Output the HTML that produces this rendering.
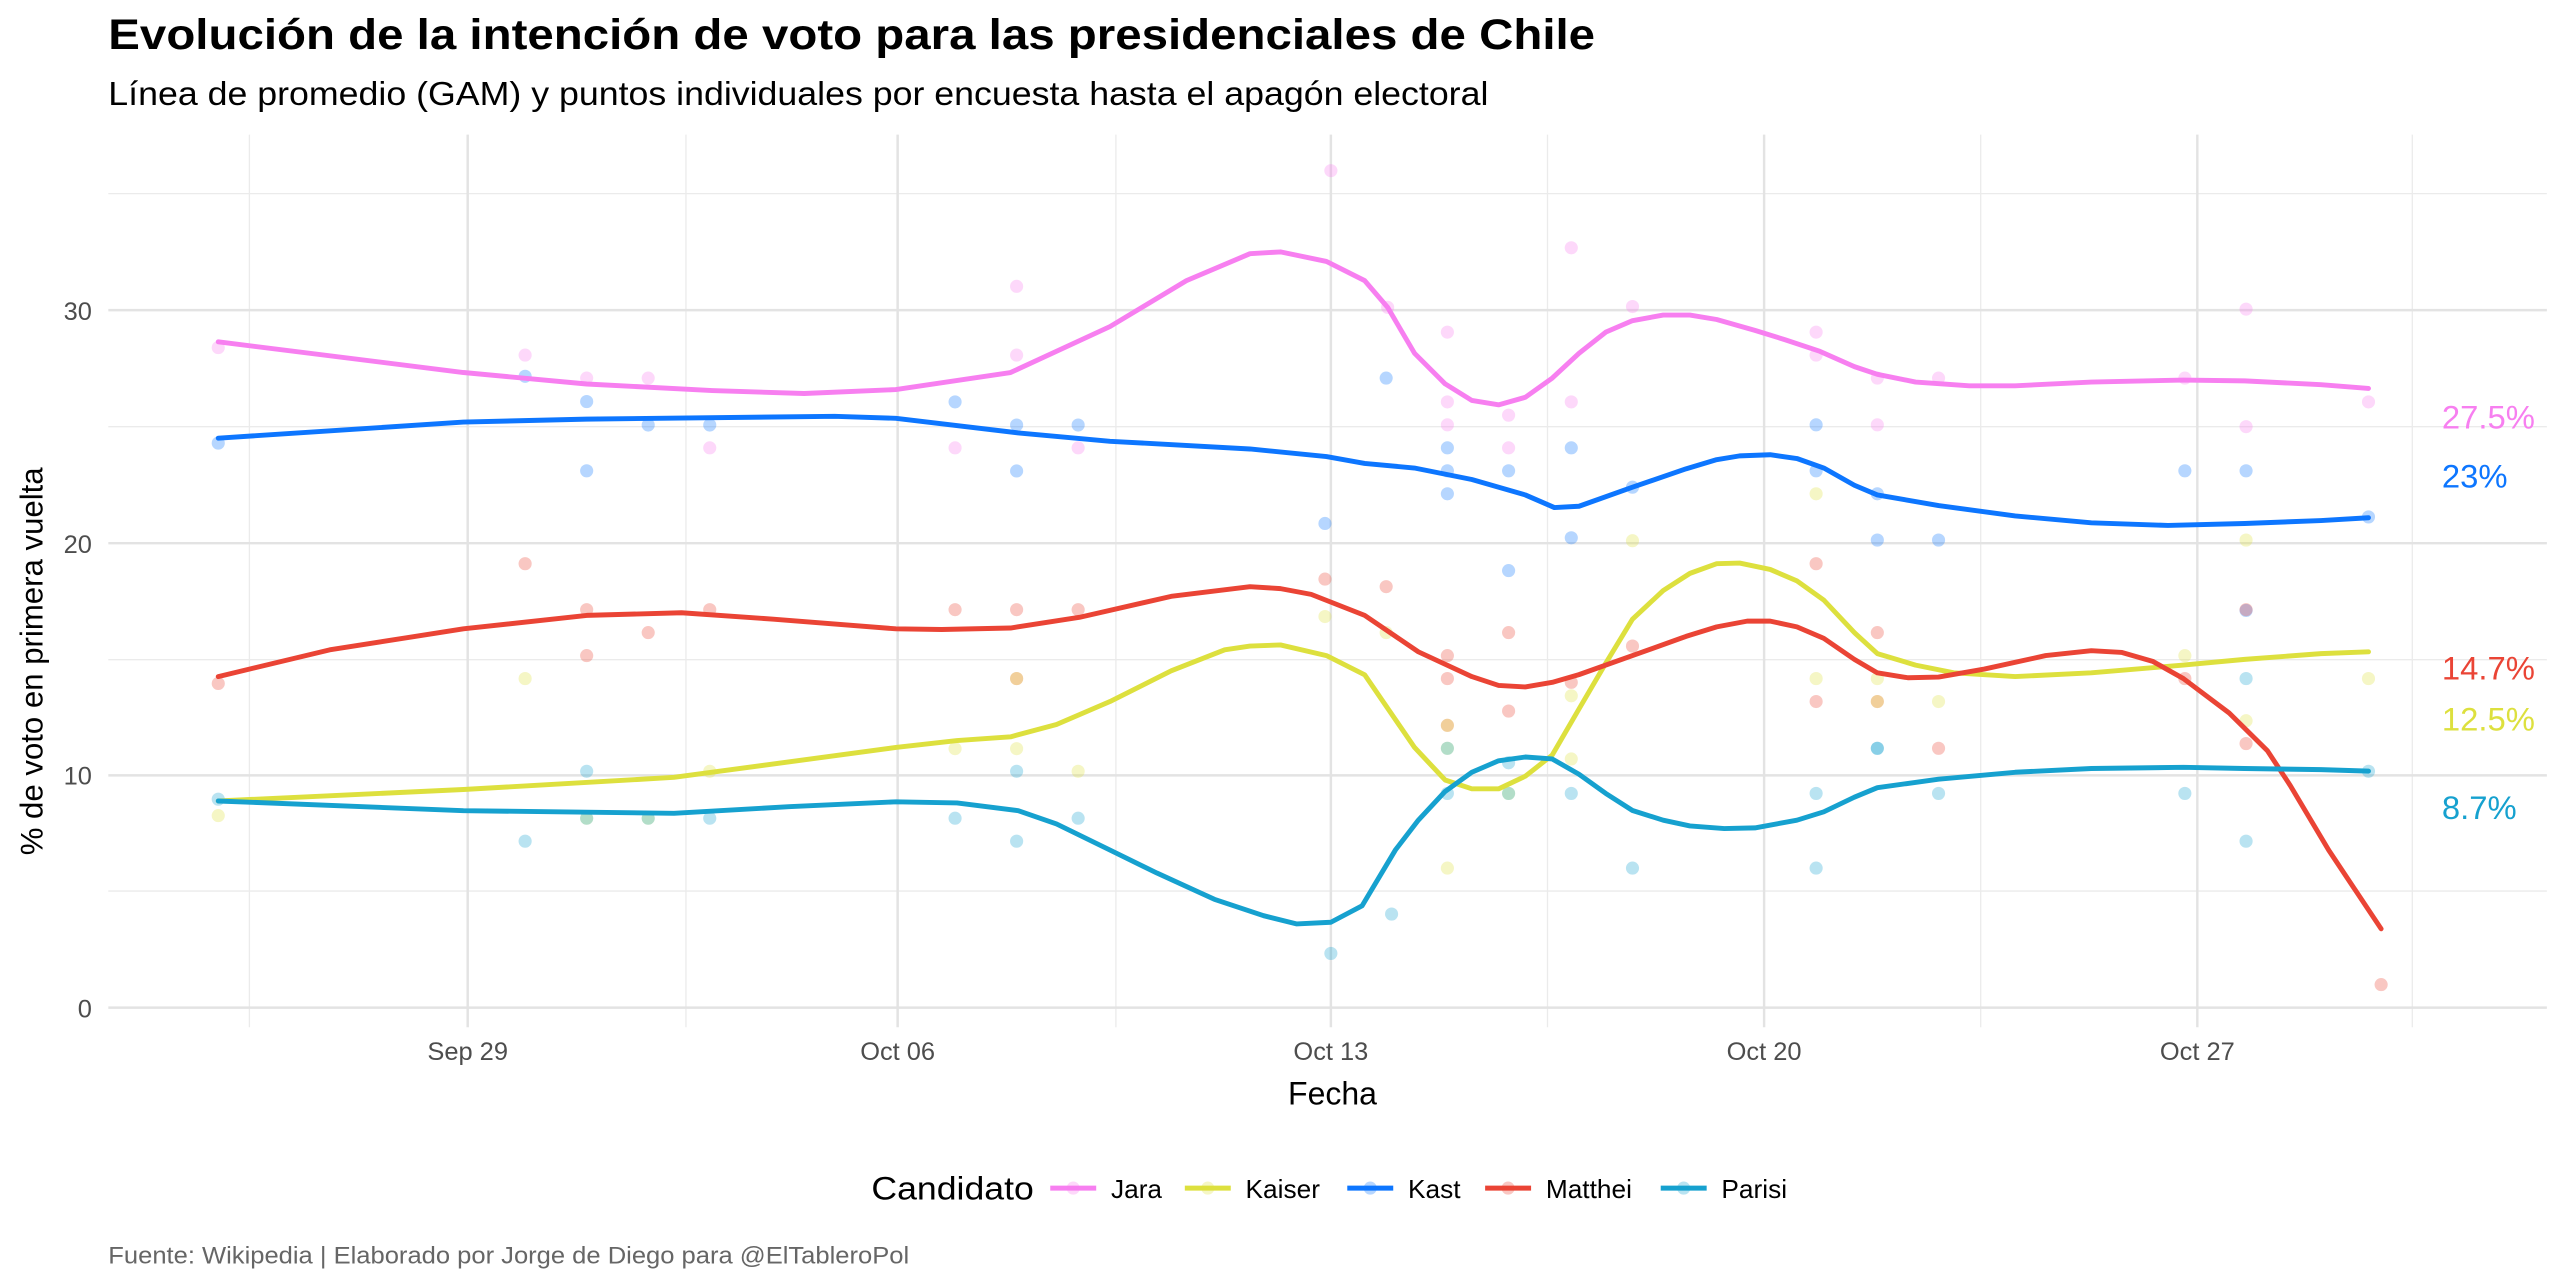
<!DOCTYPE html>
<html><head><meta charset="utf-8"><style>
html,body{margin:0;padding:0;background:#fff;}
svg{display:block;font-family:"Liberation Sans",Arial,sans-serif;}
</style></head><body>
<svg width="2560" height="1280" viewBox="0 0 1560 780" preserveAspectRatio="none" xmlns="http://www.w3.org/2000/svg" style="width:2560px;height:1280px">
<rect width="1560" height="780" fill="#fff"/>
<g stroke="#ebebeb" stroke-width="0.8">
<line x1="66" x2="1552" y1="543" y2="543"/><line x1="66" x2="1552" y1="402" y2="402"/><line x1="66" x2="1552" y1="260" y2="260"/><line x1="66" x2="1552" y1="118" y2="118"/>
<line x1="152" x2="152" y1="82" y2="626"/><line x1="418" x2="418" y1="82" y2="626"/><line x1="680" x2="680" y1="82" y2="626"/><line x1="943" x2="943" y1="82" y2="626"/><line x1="1207" x2="1207" y1="82" y2="626"/><line x1="1470" x2="1470" y1="82" y2="626"/>
</g>
<g stroke="#e3e3e3" stroke-width="1.5">
<line x1="66" x2="1552" y1="614" y2="614"/><line x1="66" x2="1552" y1="472.5" y2="472.5"/><line x1="66" x2="1552" y1="331" y2="331"/><line x1="66" x2="1552" y1="189" y2="189"/>
<line x1="285" x2="285" y1="82" y2="626"/><line x1="547" x2="547" y1="82" y2="626"/><line x1="811" x2="811" y1="82" y2="626"/><line x1="1075" x2="1075" y1="82" y2="626"/><line x1="1339" x2="1339" y1="82" y2="626"/>
</g>
<g font-size="15.5" fill="#4d4d4d">
<text x="56" y="620" text-anchor="end">0</text><text x="56" y="478" text-anchor="end">10</text><text x="56" y="337" text-anchor="end">20</text><text x="56" y="195" text-anchor="end">30</text>
<text x="285" y="646" text-anchor="middle">Sep 29</text><text x="547" y="646" text-anchor="middle">Oct 06</text><text x="811" y="646" text-anchor="middle">Oct 13</text><text x="1075" y="646" text-anchor="middle">Oct 20</text><text x="1339" y="646" text-anchor="middle">Oct 27</text>
</g>
<text x="812" y="673" font-size="19.5" text-anchor="middle" fill="#000">Fecha</text>
<text transform="translate(26,403) rotate(-90)" font-size="19" text-anchor="middle" fill="#000">% de voto en primera vuelta</text>
<text x="66" y="30" font-size="26" font-weight="bold" fill="#000" textLength="906" lengthAdjust="spacingAndGlyphs">Evolución de la intención de voto para las presidenciales de Chile</text>
<text x="66" y="64" font-size="20.5" fill="#000" textLength="841" lengthAdjust="spacingAndGlyphs">Línea de promedio (GAM) y puntos individuales por encuesta hasta el apagón electoral</text>
<text x="66" y="770" font-size="14.5" fill="#666" textLength="488" lengthAdjust="spacingAndGlyphs">Fuente: Wikipedia | Elaborado por Jorge de Diego para @ElTableroPol</text>
<!-- points -->
<g fill="#f77ff0" fill-opacity="0.3">
<circle cx="133" cy="211.8" r="4"/><circle cx="320" cy="216.4" r="4"/><circle cx="357.5" cy="230.4" r="4"/><circle cx="395" cy="230.4" r="4"/><circle cx="432.5" cy="272.9" r="4"/><circle cx="582" cy="272.9" r="4"/><circle cx="619.5" cy="174.5" r="4"/><circle cx="619.5" cy="216.4" r="4"/><circle cx="657" cy="272.9" r="4"/><circle cx="811" cy="104" r="4"/><circle cx="845.6" cy="187.3" r="4"/><circle cx="882" cy="202.4" r="4"/><circle cx="882" cy="244.9" r="4"/><circle cx="882" cy="258.9" r="4"/><circle cx="919.3" cy="253" r="4"/><circle cx="919.3" cy="272.9" r="4"/><circle cx="957.5" cy="151" r="4"/><circle cx="957.5" cy="244.9" r="4"/><circle cx="994.8" cy="186.8" r="4"/><circle cx="1106.7" cy="202.4" r="4"/><circle cx="1106.7" cy="216.4" r="4"/><circle cx="1144" cy="230.4" r="4"/><circle cx="1144" cy="258.9" r="4"/><circle cx="1181.3" cy="230.4" r="4"/><circle cx="1331.4" cy="230.4" r="4"/><circle cx="1368.7" cy="188.4" r="4"/><circle cx="1368.7" cy="260" r="4"/><circle cx="1443.3" cy="244.9" r="4"/>
</g>
<g fill="#0d76ff" fill-opacity="0.3">
<circle cx="133" cy="270" r="4"/><circle cx="320" cy="229.3" r="4"/><circle cx="357.5" cy="244.7" r="4"/><circle cx="357.5" cy="286.9" r="4"/><circle cx="395" cy="259" r="4"/><circle cx="432.5" cy="259" r="4"/><circle cx="582" cy="244.9" r="4"/><circle cx="619.5" cy="259" r="4"/><circle cx="619.5" cy="287" r="4"/><circle cx="657" cy="259" r="4"/><circle cx="807.4" cy="319" r="4"/><circle cx="844.7" cy="230.4" r="4"/><circle cx="882" cy="272.9" r="4"/><circle cx="882" cy="286.9" r="4"/><circle cx="882" cy="300.9" r="4"/><circle cx="919.3" cy="286.9" r="4"/><circle cx="919.3" cy="347.7" r="4"/><circle cx="957.5" cy="272.9" r="4"/><circle cx="957.5" cy="327.7" r="4"/><circle cx="994.8" cy="296.9" r="4"/><circle cx="1106.7" cy="258.9" r="4"/><circle cx="1106.7" cy="286.9" r="4"/><circle cx="1144" cy="300.9" r="4"/><circle cx="1144" cy="329.1" r="4"/><circle cx="1181.3" cy="329.1" r="4"/><circle cx="1331.4" cy="286.9" r="4"/><circle cx="1368.7" cy="286.9" r="4"/><circle cx="1368.7" cy="372" r="4"/><circle cx="1443.3" cy="315" r="4"/>
</g>
<g fill="#ea4435" fill-opacity="0.3">
<circle cx="133" cy="416.5" r="4"/><circle cx="320" cy="343.5" r="4"/><circle cx="357.5" cy="371.5" r="4"/><circle cx="357.5" cy="399.5" r="4"/><circle cx="395" cy="385.5" r="4"/><circle cx="432.5" cy="371.5" r="4"/><circle cx="582" cy="371.5" r="4"/><circle cx="619.5" cy="371.5" r="4"/><circle cx="619.5" cy="413.5" r="4"/><circle cx="657" cy="371.5" r="4"/><circle cx="807.4" cy="352.9" r="4"/><circle cx="844.7" cy="357.5" r="4"/><circle cx="882" cy="399.5" r="4"/><circle cx="882" cy="413.5" r="4"/><circle cx="882" cy="442" r="4"/><circle cx="919.3" cy="385.5" r="4"/><circle cx="919.3" cy="433.3" r="4"/><circle cx="957.5" cy="415.8" r="4"/><circle cx="994.8" cy="393.7" r="4"/><circle cx="1106.7" cy="343.5" r="4"/><circle cx="1106.7" cy="427.5" r="4"/><circle cx="1144" cy="385.5" r="4"/><circle cx="1144" cy="427.5" r="4"/><circle cx="1181.3" cy="456" r="4"/><circle cx="1331.4" cy="413.5" r="4"/><circle cx="1368.7" cy="371.5" r="4"/><circle cx="1368.7" cy="453.1" r="4"/><circle cx="1451" cy="600" r="4"/>
</g>
<g fill="#dde03e" fill-opacity="0.3">
<circle cx="133" cy="497" r="4"/><circle cx="320" cy="413.5" r="4"/><circle cx="357.5" cy="498.6" r="4"/><circle cx="395" cy="498.6" r="4"/><circle cx="432.5" cy="470" r="4"/><circle cx="582" cy="456.2" r="4"/><circle cx="619.5" cy="456.2" r="4"/><circle cx="619.5" cy="413.5" r="4"/><circle cx="657" cy="470" r="4"/><circle cx="807.4" cy="375.7" r="4"/><circle cx="844.7" cy="385.5" r="4"/><circle cx="882" cy="442" r="4"/><circle cx="882" cy="456" r="4"/><circle cx="882" cy="529" r="4"/><circle cx="919.3" cy="483.5" r="4"/><circle cx="957.5" cy="424" r="4"/><circle cx="957.5" cy="462.5" r="4"/><circle cx="994.8" cy="329.5" r="4"/><circle cx="1106.7" cy="300.9" r="4"/><circle cx="1106.7" cy="413.5" r="4"/><circle cx="1144" cy="413.5" r="4"/><circle cx="1144" cy="427.5" r="4"/><circle cx="1181.3" cy="427.5" r="4"/><circle cx="1331.4" cy="399.5" r="4"/><circle cx="1368.7" cy="329.1" r="4"/><circle cx="1368.7" cy="439.2" r="4"/><circle cx="1443.3" cy="413.5" r="4"/>
</g>
<g fill="#16a1cf" fill-opacity="0.3">
<circle cx="133" cy="487" r="4"/><circle cx="320" cy="512.6" r="4"/><circle cx="357.5" cy="470" r="4"/><circle cx="357.5" cy="498.6" r="4"/><circle cx="395" cy="498.6" r="4"/><circle cx="432.5" cy="498.6" r="4"/><circle cx="582" cy="498.6" r="4"/><circle cx="619.5" cy="470" r="4"/><circle cx="619.5" cy="512.6" r="4"/><circle cx="657" cy="498.6" r="4"/><circle cx="811" cy="581" r="4"/><circle cx="848" cy="557" r="4"/><circle cx="882" cy="483.5" r="4"/><circle cx="882" cy="456" r="4"/><circle cx="919.3" cy="464.8" r="4"/><circle cx="919.3" cy="483.5" r="4"/><circle cx="957.5" cy="483.5" r="4"/><circle cx="994.8" cy="529" r="4"/><circle cx="1106.7" cy="483.5" r="4"/><circle cx="1106.7" cy="529" r="4"/><circle cx="1144" cy="456" r="4"/><circle cx="1144" cy="456" r="4"/><circle cx="1181.3" cy="483.5" r="4"/><circle cx="1331.4" cy="483.5" r="4"/><circle cx="1368.7" cy="413.5" r="4"/><circle cx="1368.7" cy="512.6" r="4"/><circle cx="1443.3" cy="470" r="4"/>
</g>
<!-- lines -->
<g fill="none" stroke-width="3" stroke-linejoin="round" stroke-linecap="round">
<polyline stroke="#f77ff0" points="133,208.3 282.4,227 357.5,234 434,238 490,239.8 545.9,237.4 615.8,227 676.4,199 723,171 761.7,154.6 780.3,153.5 808.3,159.3 831.6,171 845.6,187.3 862,215.3 880.6,233.9 896.9,244 913.2,246.7 929.5,242.1 945.9,230.4 962.2,215.3 978.5,202.4 994.8,195.4 1013.5,192 1029.8,192 1046.1,194.7 1069.4,201.3 1088,207.1 1109,214.1 1130,223.4 1144,228.1 1167.3,232.8 1200,235.1 1228,235.1 1274.4,232.8 1330.5,231.6 1367.8,232.1 1414.4,234.4 1443.3,236.7"/>
<polyline stroke="#dde03e" points="133,488.1 282.4,481.1 410.7,473.7 545.9,455.5 583.2,451.3 615.8,449 643.8,441.5 676.4,427.5 713.7,408.8 746.3,396 761.7,393.7 780.3,393 808.3,399.5 831.6,411.2 862,455.5 880.6,475.3 896.9,480.7 913.2,480.7 929.5,473 945.9,460.1 962.2,432 978.5,404.2 994.8,377.3 1013.5,359.9 1029.8,349.4 1046.1,343.5 1060.1,343.1 1078.7,347 1095,354 1111.4,365.7 1130,385.5 1144,398.3 1167.3,405.3 1190.6,410 1228,412.3 1274.4,410 1330.5,405.3 1367.8,401.8 1414.4,398.3 1443.3,397.2"/>
<polyline stroke="#0d76ff" points="133,267 282.4,257.2 357.5,255.4 508.6,253.7 545.9,254.9 620.5,263.8 676.4,268.9 761.7,273.6 808.3,278.2 831.6,282.4 861.9,285.2 896.9,292.2 929.5,301.6 947.2,309.3 962.2,308.5 994.8,296.9 1027.4,285.7 1046.1,280.1 1060.1,277.8 1078.7,277.1 1095,279.4 1111.4,285.2 1130,295.7 1144,301.6 1181.3,308.1 1228,314.4 1274.4,318.6 1321.1,320.2 1367.8,319 1414.4,317.2 1443.3,315.5"/>
<polyline stroke="#ea4435" points="133,412.3 200.9,396 282.4,383.2 357.5,375 415.3,373.4 471.3,377.3 545.9,383.2 573.8,383.6 615.8,382.7 657.7,376.2 713.7,363.4 761.7,357.5 780.3,358.7 799,362.2 831.6,375 864.3,397.2 896.9,412.3 913.2,417.7 929.5,418.6 945.9,415.8 962.2,411.1 994.8,399.5 1027.4,387.8 1046.1,382 1064.7,378.5 1078.7,378.5 1095,382 1111.4,389 1130,401.8 1144,410 1162.6,413 1181.3,412.6 1209.2,407.7 1246.6,399.5 1274.4,396.5 1293.1,397.6 1311.8,403 1330.5,413.5 1358.4,434.5 1381.8,457.6 1395.7,478.8 1419,518 1435,542 1451,566"/>
<polyline stroke="#16a1cf" points="133,488.1 282.4,494 410.7,495.6 480.6,491.6 545.9,488.6 583.2,489.3 620.5,494 643.8,502.1 676.4,518 705,532 740,548 770,558 790,563 811,562 830,552 850.3,518 864.3,499.8 880.6,482.3 896.9,470.6 913.2,463.6 929.5,461.3 945.9,462.5 962.2,471.8 978.5,483.5 994.8,493.9 1013.5,499.8 1029.8,503.3 1050.7,504.9 1069.4,504.5 1095,499.8 1111.4,494.7 1130,485.8 1144,480 1181.3,474.8 1228,470.6 1274.4,468.3 1330.5,467.6 1367.8,468.3 1414.4,469 1443.3,469.9"/>
</g>
<g font-size="20">
<text x="1488" y="261" fill="#f77ff0">27.5%</text>
<text x="1488" y="297" fill="#0d76ff">23%</text>
<text x="1488" y="414" fill="#ea4435">14.7%</text>
<text x="1488" y="445" fill="#dde03e">12.5%</text>
<text x="1488" y="499" fill="#16a1cf">8.7%</text>
</g>
<g font-size="16" fill="#000">
<text x="531" y="731" font-size="20" textLength="99" lengthAdjust="spacingAndGlyphs">Candidato</text>
<line x1="640" x2="668" y1="724" y2="724" stroke="#f77ff0" stroke-width="3"/><circle cx="654" cy="724" r="4" fill="#f77ff0" fill-opacity="0.3"/><text x="677" y="730">Jara</text>
<line x1="722" x2="750" y1="724" y2="724" stroke="#dde03e" stroke-width="3"/><circle cx="736" cy="724" r="4" fill="#dde03e" fill-opacity="0.3"/><text x="759" y="730">Kaiser</text>
<line x1="821" x2="849" y1="724" y2="724" stroke="#0d76ff" stroke-width="3"/><circle cx="835" cy="724" r="4" fill="#0d76ff" fill-opacity="0.3"/><text x="858" y="730">Kast</text>
<line x1="905" x2="933" y1="724" y2="724" stroke="#ea4435" stroke-width="3"/><circle cx="919" cy="724" r="4" fill="#ea4435" fill-opacity="0.3"/><text x="942" y="730">Matthei</text>
<line x1="1012" x2="1040" y1="724" y2="724" stroke="#16a1cf" stroke-width="3"/><circle cx="1026" cy="724" r="4" fill="#16a1cf" fill-opacity="0.3"/><text x="1049" y="730">Parisi</text>
</g>
</svg>
</body></html>
